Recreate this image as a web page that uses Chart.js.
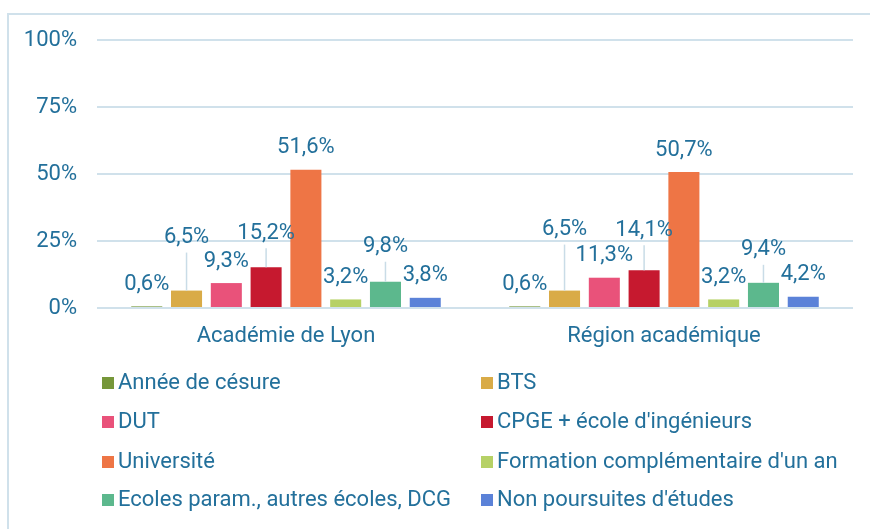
<!DOCTYPE html>
<html>
<head>
<meta charset="utf-8">
<script src="https://cdn.jsdelivr.net/npm/chart.js@4.4.1/dist/chart.umd.min.js"></script>
<style>
  html, body { margin: 0; padding: 0; background: #fff; }
  #wrap { width: 870px; height: 529px; }
</style>
</head>
<body>
<div id="wrap"><canvas id="chart" width="870" height="529"></canvas></div>
<script>
// Data
const categories = ['Académie de Lyon', 'Région académique'];
const seriesNames = [
    'Année de césure', 'BTS', 'DUT', "CPGE + école d'ingénieurs",
    'Université', "Formation complémentaire d'un an",
    'Ecoles param., autres écoles, DCG', "Non poursuites d'études"
];
const anneeCesure = [0.6, 0.6];
const bts = [6.5, 6.5];
const dut = [9.3, 11.3];
const cpge = [15.2, 14.1];
const universite = [51.6, 50.7];
const formation = [3.2, 3.2];
const ecoles = [9.8, 9.4];
const nonPoursuite = [3.8, 4.2];
const yTicks = [0, 25, 50, 75, 100];

const colors = ['#76973a', '#d9ab47', '#e9527a', '#c6192f', '#ee7545', '#b6d166', '#5cb88d', '#5b82d8'];
const TEXT = '#23709b';
const GRID = '#d0e1eb';
const FONT = 'Roboto, "Open Sans", sans-serif';
const FS = 22;

// extra lift (px) for labels that Excel moved up with a leader line
const labelLift = [[0, 0], [31, 39], [0, 0], [12, 18], [0, 0], [0, 0], [13, 11], [0, 0]];

const allValues = [anneeCesure, bts, dut, cpge, universite, formation, ecoles, nonPoursuite];

const frame = {
    id: 'frame',
    beforeDraw(chart) {
        const ctx = chart.ctx;
        ctx.save();
        ctx.fillStyle = '#fff';
        ctx.fillRect(0, 0, chart.width, chart.height);
        ctx.strokeStyle = GRID;
        ctx.lineWidth = 2;
        ctx.beginPath();
        ctx.moveTo(chart.width, 14);
        ctx.lineTo(8, 14);
        ctx.lineTo(8, chart.height);
        ctx.stroke();
        ctx.restore();
    }
};

const barLabels = {
    id: 'barLabels',
    afterDatasetsDraw(chart) {
        const ctx = chart.ctx;
        ctx.save();
        ctx.font = FS + 'px ' + FONT;
        ctx.textAlign = 'center';
        ctx.textBaseline = 'middle';
        chart.data.datasets.forEach((ds, di) => {
            chart.getDatasetMeta(di).data.forEach((bar, i) => {
                const lift = labelLift[di][i];
                const ly = bar.y - 22 - lift;
                if (lift > 0) {
                    ctx.strokeStyle = '#c9dce7';
                    ctx.lineWidth = 1.5;
                    ctx.beginPath();
                    ctx.moveTo(bar.x, ly + 15);
                    ctx.lineTo(bar.x, bar.y);
                    ctx.stroke();
                }
                ctx.fillStyle = TEXT;
                ctx.fillText(ds.data[i].toFixed(1).replace('.', ',') + '%', bar.x, ly);
            });
        });
        ctx.restore();
    }
};

const gridLegend = {
    id: 'gridLegend',
    afterDraw(chart) {
        const ctx = chart.ctx;
        const colX = [102, 481];
        const rowY = [383, 422, 462, 500];
        ctx.save();
        ctx.font = FS + 'px ' + FONT;
        ctx.textBaseline = 'middle';
        chart.data.datasets.forEach((ds, i) => {
            const x = colX[i % 2];
            const y = rowY[Math.floor(i / 2)];
            ctx.fillStyle = ds.backgroundColor;
            ctx.fillRect(x, y - 6, 12, 12);
            ctx.fillStyle = TEXT;
            ctx.fillText(ds.label, x + 16, y);
        });
        ctx.restore();
    }
};

new Chart(document.getElementById('chart'), {
    type: 'bar',
    data: {
        labels: categories,
        datasets: seriesNames.map((name, i) => ({
            label: name,
            data: allValues[i],
            backgroundColor: colors[i],
            barPercentage: 0.78,
            categoryPercentage: 0.842
        }))
    },
    options: {
        responsive: false,
        animation: false,
        layout: { padding: { left: 20, right: 17, top: 40, bottom: 171 } },
        plugins: { legend: { display: false }, tooltip: { enabled: false } },
        scales: {
            x: {
                grid: { display: false, drawTicks: false },
                border: { display: false },
                ticks: { color: TEXT, font: { family: FONT, size: FS }, padding: 15 },
                afterFit: (s) => { s.height = 50; }
            },
            y: {
                min: 0,
                max: 100,
                afterBuildTicks: (s) => { s.ticks = yTicks.map(v => ({ value: v })); },
                grid: { color: GRID, lineWidth: 2, drawTicks: false },
                border: { display: false },
                ticks: {
                    color: TEXT,
                    font: { family: FONT, size: FS },
                    padding: 20,
                    callback: (v) => v + '%'
                },
                afterFit: (s) => { s.width = 77; }
            }
        }
    },
    plugins: [frame, barLabels, gridLegend]
});
</script>
</body>
</html>
